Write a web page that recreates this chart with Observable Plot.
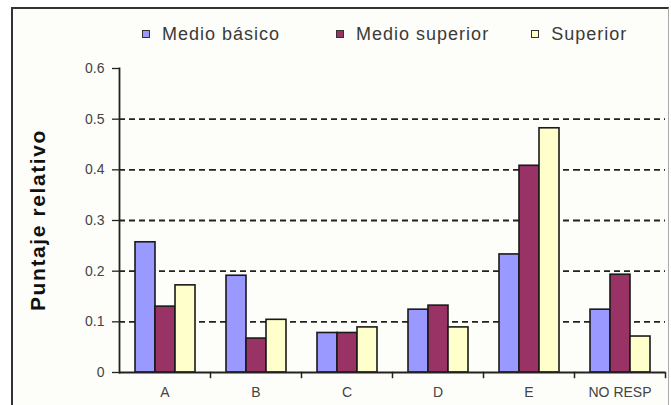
<!DOCTYPE html>
<html>
<head>
<meta charset="utf-8">
<script src="https://cdn.jsdelivr.net/npm/d3@7"></script>
<script src="https://cdn.jsdelivr.net/npm/@observablehq/plot@0.6"></script>
<style>
  html, body { margin: 0; padding: 0; background: #fff; }
  #wrap { position: relative; width: 671px; height: 405px; overflow: hidden; font-family: "Liberation Sans", Arial, sans-serif; }
  #box { position: absolute; left: 11px; top: 7px; width: 655px; height: 420px; background: #fdfdf9;
         border-left: 2px solid #333; border-top: 2px solid #333; border-right: 1px solid #aaa; }
  #legend { position: absolute; left: 142px; top: 25px; display: flex; align-items: center; font-size: 18px; line-height: 18px; color: #3a3a3a; letter-spacing: 1px; }
  #legend .item { display: flex; align-items: center; }
  #legend .item + .item { margin-left: 56px; }
  #legend .item:nth-child(3) { margin-left: 42px; }
  #legend .sw { width: 6px; height: 6px; border: 1px solid #333; margin-right: 12px; }
  #ytitle { position: absolute; left: 38px; top: 220px; transform: translate(-50%, -50%) rotate(-90deg); white-space: nowrap;
            font-size: 21px; font-weight: bold; letter-spacing: 1.6px; color: #111; }
  #chart { position: absolute; left: 0; top: 55px; }
</style>
</head>
<body>
<div id="wrap">
  <div id="box"></div>
  <div id="legend"></div>
  <div id="ytitle">Puntaje relativo</div>
  <div id="chart"></div>
</div>
<script>
const categories = ["A", "B", "C", "D", "E", "NO RESP"];
const seriesNames = ["Medio básico", "Medio superior", "Superior"];
const medioBasico   = [0.257, 0.191, 0.078, 0.124, 0.233, 0.124];
const medioSuperior = [0.130, 0.067, 0.078, 0.132, 0.408, 0.193];
const superior      = [0.172, 0.104, 0.089, 0.089, 0.482, 0.071];
const seriesColors = ["#9999ff", "#993366", "#ffffcc"];
const yTicks = [0, 0.1, 0.2, 0.3, 0.4, 0.5, 0.6];
const gridValues = [0.1, 0.2, 0.3, 0.4, 0.5];

const seriesValues = [medioBasico, medioSuperior, superior];
const data = [];
categories.forEach((c, i) => {
  seriesNames.forEach((s, j) => data.push({cat: c, series: s, value: seriesValues[j][i]}));
});

// legend
const legend = document.getElementById("legend");
seriesNames.forEach((s, j) => {
  const it = document.createElement("div");
  it.className = "item";
  const sw = document.createElement("div");
  sw.className = "sw";
  sw.style.background = seriesColors[j];
  const t = document.createElement("span");
  t.textContent = s;
  it.appendChild(sw); it.appendChild(t);
  legend.appendChild(it);
});

const W = 671, H = 350, mT = 13, mB = 33;
const chart = Plot.plot({
  width: W,
  height: H,
  marginTop: mT,
  marginBottom: mB,
  marginLeft: 118,
  marginRight: 6,
  style: {background: "transparent", color: "#444", fontFamily: "Liberation Sans, Arial, sans-serif"},
  fx: {domain: categories, padding: 0},
  x: {domain: seriesNames, paddingInner: 0, paddingOuter: 0.745, axis: null},
  y: {domain: [0, 0.6]},
  color: {domain: seriesNames, range: seriesColors},
  marks: [
    Plot.ruleY(gridValues, {stroke: "#222", strokeWidth: 1.8, strokeDasharray: "6,4"}),
    Plot.barY(data, {fx: "cat", x: "series", y: "value", fill: "series", stroke: "#1a1a1a", strokeWidth: 1.6}),
    Plot.ruleY([0], {stroke: "#222", strokeWidth: 1.8}),
    Plot.frame({anchor: "left", facetAnchor: "left", stroke: "#222", strokeWidth: 1.8}),
    // category-boundary tick marks below the x axis
    Plot.frame({anchor: "right", insetTop: H - mT - mB, insetBottom: -5, stroke: "#222", strokeWidth: 1.5}),
    Plot.axisY({ticks: yTicks, tickSize: 7, tickPadding: 8, tickFormat: d => d === 0 ? "0" : d.toFixed(1),
                label: null, fontSize: 14, stroke: "#222", strokeWidth: 1.3}),
    Plot.axisFx({anchor: "bottom", tickSize: 0, tickPadding: 15, label: null, fontSize: 14})
  ]
});
document.getElementById("chart").appendChild(chart);
</script>
</body>
</html>
